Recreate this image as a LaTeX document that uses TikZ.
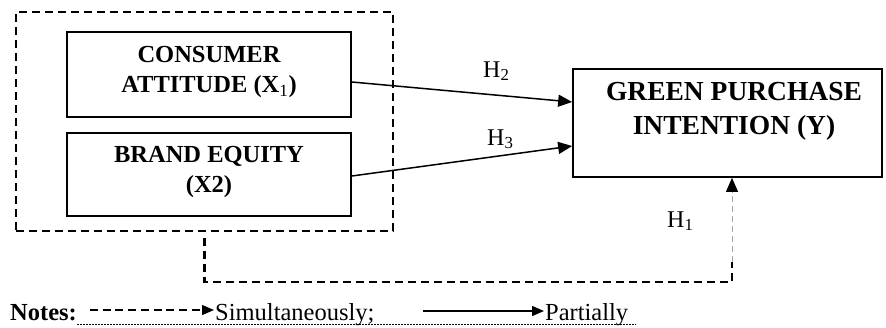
\documentclass[tikz,border=0pt]{standalone}
\usepackage{fontspec}
\setmainfont{Liberation Serif}
\usetikzlibrary{arrows.meta}
\begin{document}
\begin{tikzpicture}[x=1pt,y=-1pt,
  varbox/.style={draw,line width=1.7pt,inner sep=0pt},
  boxtext/.style={align=center,font=\fontsize{24.5}{30}\selectfont\bfseries},
  bigtext/.style={align=center,font=\fontsize{27.5}{34}\selectfont\bfseries},
  hlabel/.style={anchor=base west,inner sep=0pt,font=\fontsize{24}{28}\selectfont},
  grouped/.style={draw,line width=2.5pt,dash pattern=on 8pt off 5pt,inner sep=0pt},
  path arrow/.style={line width=1.5pt,-{Triangle[length=14pt,width=12pt]}},
  notetext/.style={anchor=base west,inner sep=0pt,font=\fontsize{24.5}{28}\selectfont}]
\useasboundingbox (0,0) rectangle (886,327);

% grouping of the two independent variables
\node[grouped,minimum width=377pt,minimum height=219pt] (outer) at (204.5,121.5) {};

% independent variables
\node[varbox,minimum width=284pt,minimum height=85pt] (ca) at (209,74.5) {};
\node[boxtext] (cat) at (209,72) {CONSUMER\\ATTITUDE (X\textsubscript{\mdseries 1})};
\node[varbox,minimum width=284pt,minimum height=83pt] (be) at (209,174.5) {};
\node[boxtext] (bet) at (209,172) {BRAND EQUITY\\(X2)};

% dependent variable
\node[varbox,minimum width=309pt,minimum height=108pt] (gpi) at (727.5,123) {};
\node[bigtext] (gpit) at (734,111) {GREEN PURCHASE\\INTENTION (Y)};

% partial effects
\draw[path arrow] (ca.east |- 0,82) -- (gpi.west |- 0,102);
\draw[path arrow] (be.east |- 0,176) -- (gpi.west |- 0,146);
\node[hlabel] (h2) at (483,77) {H\textsubscript{2}};
\node[hlabel] (h3) at (487,145) {H\textsubscript{3}};

% simultaneous effect
\coordinate (c1) at (732,282);
\coordinate (c2) at (732,262);
\draw[line width=2.5pt,dash pattern=on 8pt off 5pt] (outer.south) ++(0,6) -- (outer.south |- c1) -- (c1) -- (c2);
\draw[gray!70,line width=0.9pt,dash pattern=on 6pt off 4pt,-{Triangle[length=14pt,width=12pt,black]}]
  (c2) -- (c1 |- gpi.south);
\node[hlabel] (h1) at (667,227) {H\textsubscript{1}};

% legend
\node[notetext,font=\fontsize{24.5}{28}\selectfont\bfseries] (notes) at (10,320) {Notes:};
\coordinate (l1) at (90,310);
\coordinate (l2) at (214,310);
\draw[line width=1.3pt,dash pattern=on 8pt off 4.7pt,-{Triangle[length=12pt,width=10pt]}] (l1) -- (l2);
\node[notetext] (simul) at (215,320) {Simultaneously;};
\coordinate (l3) at (423,311);
\coordinate (l4) at (544,311);
\draw[line width=1.5pt,-{Triangle[length=12pt,width=10pt]}] (l3) -- (l4);
\node[notetext] (partial) at (545,320) {Partially};
\coordinate (u1) at (77,324);
\coordinate (u2) at (636,324);
\draw[line width=0.8pt,dash pattern=on 1.5pt off 1.5pt] (u1) -- (u2);
\end{tikzpicture}
\end{document}
